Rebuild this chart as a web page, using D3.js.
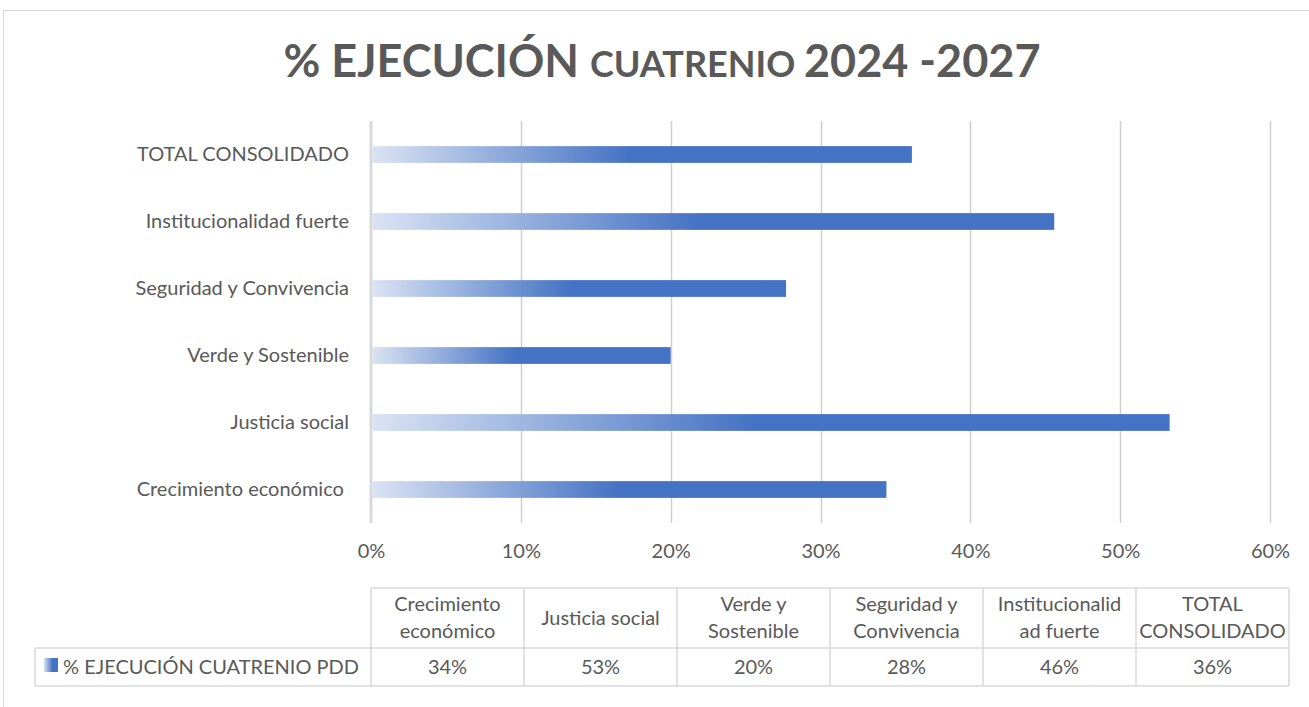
<!DOCTYPE html>
<html>
<head>
<meta charset="utf-8">
<script src="https://cdn.jsdelivr.net/npm/d3@7"></script>
<style>
  html, body { margin: 0; padding: 0; background: #fff; }
  svg { display: block; }
  text { font-family: Lato, "Open Sans", sans-serif; fill: #595959; }
</style>
</head>
<body>
<svg id="chart" width="1309" height="707"></svg>
<script>
// ---- data ----
const categories = ["Crecimiento económico", "Justicia social", "Verde y Sostenible",
                    "Seguridad y Convivencia", "Institucionalidad fuerte", "TOTAL CONSOLIDADO"];
const axisLabels = ["Crecimiento económico\u00a0", "Justicia social", "Verde y Sostenible",
                    "Seguridad y Convivencia", "Institucionalidad fuerte", "TOTAL CONSOLIDADO"];
const tableHeaders = [["Crecimiento", "económico"], ["Justicia social"], ["Verde y", "Sostenible"],
                      ["Seguridad y", "Convivencia"], ["Institucionalid", "ad fuerte"], ["TOTAL", "CONSOLIDADO"]];
const values = [0.344, 0.533, 0.200, 0.277, 0.456, 0.361];
const tickValues = [0, 0.1, 0.2, 0.3, 0.4, 0.5, 0.6];
const seriesName = "% EJECUCIÓN CUATRENIO PDD";

const svg = d3.select("#chart");
const BLUE = "#4472c4", LIGHT = "#dae3f3", GRID = "#d0d0d0", TXT = "#595959";
const FS = "20px";

// gradient
const defs = svg.append("defs");
const grad = defs.append("linearGradient").attr("id", "barGrad")
  .attr("x1", "0%").attr("x2", "100%").attr("y1", "0%").attr("y2", "0%");
grad.append("stop").attr("offset", "0%").attr("stop-color", LIGHT);
grad.append("stop").attr("offset", "48%").attr("stop-color", BLUE);
grad.append("stop").attr("offset", "100%").attr("stop-color", BLUE);
const grad2 = defs.append("linearGradient").attr("id", "keyGrad")
  .attr("x1", "0%").attr("x2", "100%");
grad2.append("stop").attr("offset", "0%").attr("stop-color", LIGHT);
grad2.append("stop").attr("offset", "60%").attr("stop-color", BLUE);

// outer chart border
svg.append("path").attr("d", "M3.5,707 L3.5,10.5 L1309,10.5")
  .attr("fill", "none").attr("stroke", "#d9d9d9").attr("stroke-width", 1);

// title
const title = svg.append("text").attr("x", 662).attr("y", 77).attr("text-anchor", "middle")
  .style("font-weight", "bold");
title.append("tspan").style("font-size", "45px").text("% EJECUCIÓN ");
title.append("tspan").style("font-size", "36px").text("CUATRENIO ");
title.append("tspan").style("font-size", "45px").text("2024 -2027");

// scales
const x = d3.scaleLinear().domain([0, 0.6]).range([371, 1270]);
const y = d3.scaleBand().domain(categories).range([523, 121]).paddingInner(0.75).paddingOuter(0.375);
const yTop = 121, yBot = 523;

// gridlines
svg.append("g").selectAll("line").data(tickValues.slice(1)).join("line")
  .attr("x1", d => Math.round(x(d)) + 0.5).attr("x2", d => Math.round(x(d)) + 0.5)
  .attr("y1", yTop).attr("y2", yBot).attr("stroke", GRID).attr("stroke-width", 1.5);
// zero axis line
svg.append("line").attr("x1", x(0)).attr("x2", x(0)).attr("y1", yTop).attr("y2", yBot)
  .attr("stroke", "#d9d9d9").attr("stroke-width", 3);

// bars
svg.append("g").selectAll("rect").data(values).join("rect")
  .attr("x", x(0) + 1.5)
  .attr("y", (d, i) => y(categories[i]))
  .attr("width", d => x(d) - x(0) - 1.5)
  .attr("height", y.bandwidth())
  .attr("fill", "url(#barGrad)");

// x axis via d3 axis
const xAxis = svg.append("g").attr("transform", `translate(0,${yBot})`)
  .call(d3.axisBottom(x).tickValues(tickValues).tickFormat(d3.format(".0%")).tickSize(0).tickPadding(21));
xAxis.select(".domain").remove();
xAxis.selectAll("text").style("font-size", FS).attr("fill", TXT)
  .style("font-family", "Lato, 'Open Sans', sans-serif");

// y axis labels
const yAxis = svg.append("g").attr("transform", `translate(${x(0)},0)`)
  .call(d3.axisLeft(y).tickSize(0).tickPadding(22).tickFormat((d, i) => axisLabels[i]));
yAxis.select(".domain").remove();
yAxis.selectAll("text").style("font-size", FS).attr("fill", TXT)
  .style("font-family", "Lato, 'Open Sans', sans-serif");

// data table
const colX = d3.scaleBand().domain(categories).range([371, 1289]);
const tTop = 588, tMid = 648, tBot = 686, legLeft = 35;
const tb = svg.append("g").attr("stroke", "#d9d9d9").attr("stroke-width", 1.5).attr("fill", "none");
tb.append("line").attr("x1", 371).attr("x2", 1289).attr("y1", tTop).attr("y2", tTop);
tb.append("line").attr("x1", legLeft).attr("x2", 1289).attr("y1", tMid).attr("y2", tMid);
tb.append("line").attr("x1", legLeft).attr("x2", 1289).attr("y1", tBot).attr("y2", tBot);
tb.append("line").attr("x1", legLeft).attr("x2", legLeft).attr("y1", tMid).attr("y2", tBot);
tb.selectAll("line.v").data(categories.concat(["end"])).join("line").attr("class", "v")
  .attr("x1", (d, i) => 371 + i * colX.bandwidth()).attr("x2", (d, i) => 371 + i * colX.bandwidth())
  .attr("y1", tTop).attr("y2", tBot);

const hdr = svg.append("g").selectAll("text").data(tableHeaders).join("text")
  .attr("text-anchor", "middle").style("font-size", FS)
  .attr("x", (d, i) => colX(categories[i]) + colX.bandwidth() / 2)
  .attr("y", d => d.length === 2 ? 611 : 625);
hdr.selectAll("tspan").data(d => d).join("tspan")
  .attr("x", function () { return this.parentNode.getAttribute("x"); })
  .attr("dy", (d, i) => i === 0 ? 0 : 27).text(d => d);

svg.append("g").selectAll("text").data(values).join("text")
  .attr("text-anchor", "middle").style("font-size", FS)
  .attr("x", (d, i) => colX(categories[i]) + colX.bandwidth() / 2)
  .attr("y", 674).text(d => d3.format(".0%")(d));

// legend key
svg.append("rect").attr("x", 44).attr("y", 658).attr("width", 14).attr("height", 14)
  .attr("fill", "url(#keyGrad)");
svg.append("text").attr("x", 63).attr("y", 674).style("font-size", FS).text(seriesName);
</script>
</body>
</html>
